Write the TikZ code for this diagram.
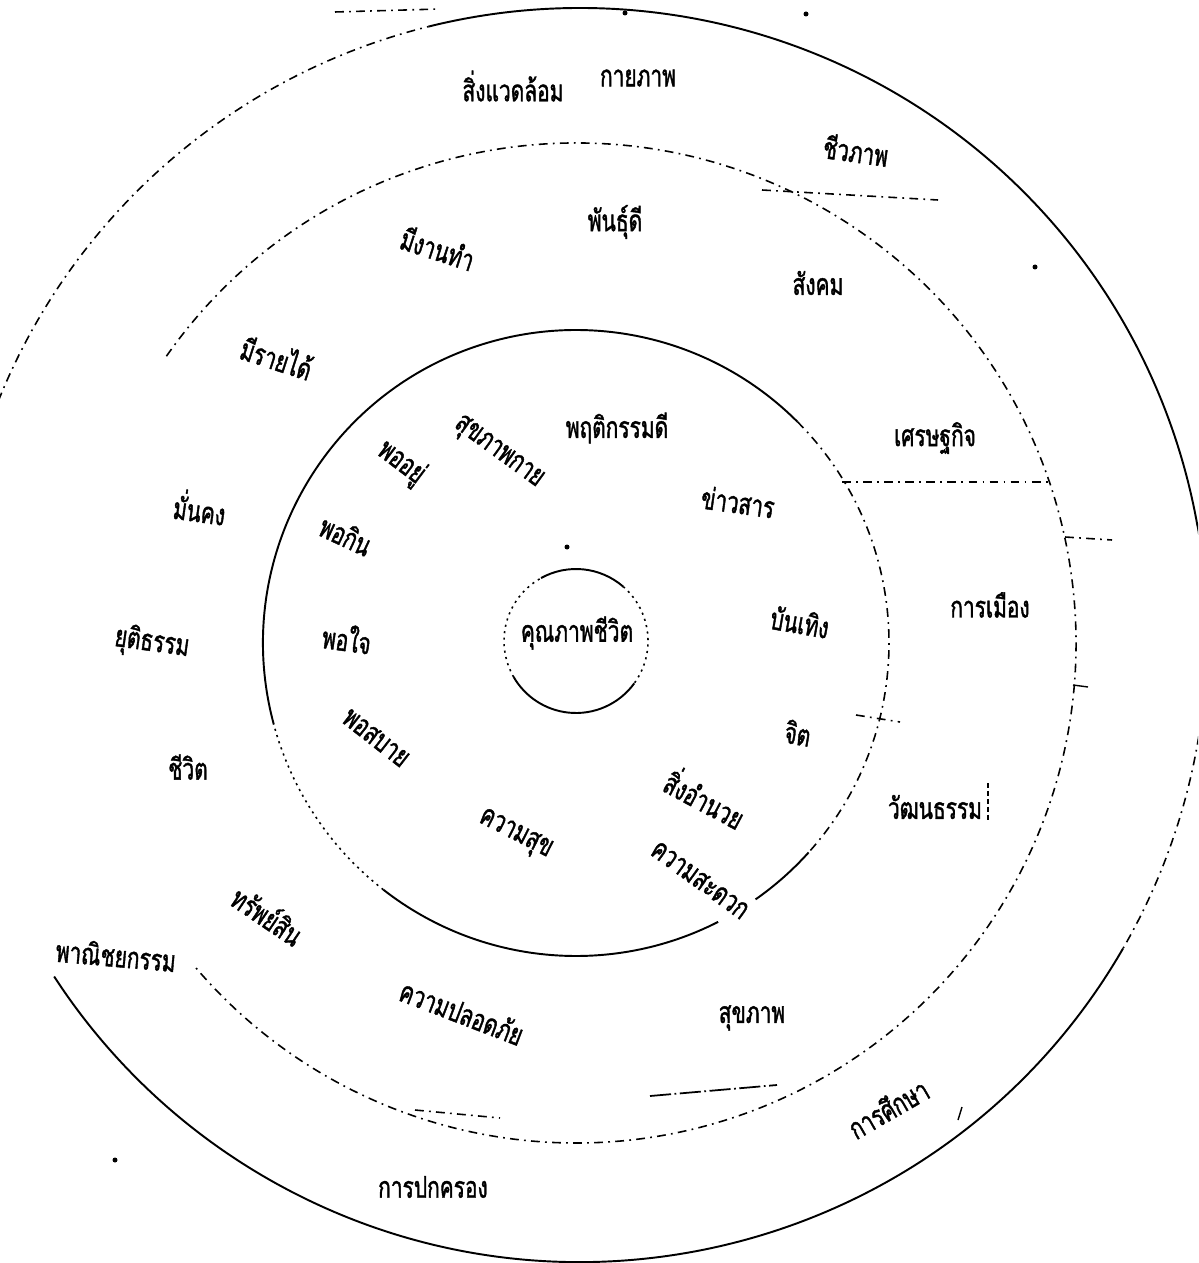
\documentclass[tikz,border=0pt]{standalone}
\usepackage{fontspec}
\newfontfamily\thai[Script=Thai,FakeStretch=0.7,FakeBold=1.3]{Loma}
\begin{document}
\begin{tikzpicture}[x=0.02cm,y=-0.02cm,
  lbl/.style={font=\thai\fontsize{17}{20}\selectfont, inner sep=1pt},
  ring/.style={line width=1.1pt},
  dring/.style={line width=0.9pt, dash pattern=on 5pt off 3pt on 1pt off 3pt},
  dotring/.style={line width=0.9pt, dash pattern=on 1.2pt off 2.5pt},
  thin/.style={line width=0.8pt},
  speck/.style={fill=black}]
\useasboundingbox (0,0) rectangle (1198,1263);
\fill[white] (0,0) rectangle (1198,1263);
\begin{scope}
\clip (0,0) rectangle (1198,1263);
\coordinate (C0) at (576,641);
\coordinate (C) at (576,643);
\coordinate (CO) at (580,635);
% inner circle
\draw[ring] (C0) ++(-119:72) arc[start angle=-119, end angle=-49, radius=72];
\draw[dotring] (C0) ++(-49:72) arc[start angle=-49, end angle=36, radius=72];
\draw[ring] (C0) ++(36:72) arc[start angle=36, end angle=150, radius=72];
\draw[dotring] (C0) ++(150:72) arc[start angle=150, end angle=241, radius=72];
% second circle
\draw[ring] (C) ++(165:313) arc[start angle=165, end angle=315, radius=313];
\draw[dring] (C) ++(315:313) arc[start angle=315, end angle=402, radius=313];
\draw[ring] (C) ++(42:313) arc[start angle=42, end angle=55, radius=313];
\draw[ring] (C) ++(63:313) arc[start angle=63, end angle=128, radius=313];
\draw[dotring] (C) ++(128:313) arc[start angle=128, end angle=165, radius=313];
% third circle
\draw[dring] (C) ++(-145:500) arc[start angle=-145, end angle=140, radius=500];
% outer circle
\draw[ring] (CO) ++(-104:627) arc[start angle=-104, end angle=-10, radius=627];
\draw[dring] (CO) ++(-10:627) arc[start angle=-10, end angle=30, radius=627];
\draw[ring] (CO) ++(30:627) arc[start angle=30, end angle=147, radius=627];
\draw[dring] (CO) ++(200:627) arc[start angle=200, end angle=256, radius=627];
% separators and marks
\coordinate (h1a) at (842,482); \coordinate (h1b) at (1050,482);
\draw[dring] (h1a) -- (h1b);
\coordinate (h2a) at (762,190); \coordinate (h2b) at (938,200);
\draw[dring] (h2a) -- (h2b);
\coordinate (t1a) at (1065,537); \coordinate (t1b) at (1112,540);
\draw[dring] (t1a) -- (t1b);
\coordinate (t2a) at (1073,685); \coordinate (t2b) at (1088,687);
\draw[thin] (t2a) -- (t2b);
\coordinate (t3a) at (856,715); \coordinate (t3b) at (900,722);
\draw[dring] (t3a) -- (t3b);
\coordinate (v1a) at (988,783); \coordinate (v1b) at (988,820);
\draw[thin, dash pattern=on 3pt off 1.5pt] (v1a) -- (v1b);
\coordinate (s1a) at (958,1120); \coordinate (s1b) at (962,1107);
\draw[thin] (s1a) -- (s1b);
\coordinate (b1a) at (650,1096); \coordinate (b1b) at (777,1085);
\draw[line width=1pt, dash pattern=on 12pt off 2pt on 1pt off 2pt] (b1a) -- (b1b);
\coordinate (b2a) at (415,1110); \coordinate (b2b) at (500,1118);
\draw[dring] (b2a) -- (b2b);
\coordinate (tp1) at (335,12); \coordinate (tp2) at (440,9);
\draw[dring] (tp1) -- (tp2);
\fill[speck] (625,13) circle[radius=2.5];
\fill[speck] (806,14) circle[radius=2.5];
\fill[speck] (567,547) circle[radius=2.5];
\fill[speck] (1035,267) circle[radius=2.5];
\fill[speck] (115,1160) circle[radius=2.5];
\end{scope}
% labels
\node[lbl] (n1) at (513,86) {สิ่งแวดล้อม};
\node[lbl] (n2) at (638,78) {กายภาพ};
\node[lbl, rotate=-8] (n3) at (856,150) {ชีวภาพ};
\node[lbl] (n4) at (615,222) {พันธุ์ดี};
\node[lbl, rotate=-18] (n5) at (438,248) {มีงานทำ};
\node[lbl] (n6) at (818,283) {สังคม};
\node[lbl, rotate=-18] (n7) at (277,357) {มีรายได้};
\node[lbl] (n8) at (935,438) {เศรษฐกิจ};
\node[lbl] (n9) at (617,428) {พฤติกรรมดี};
\node[lbl, rotate=-36] (n10) at (498,453) {สุขภาพกาย};
\node[lbl, rotate=-37] (n11) at (401,463) {พออยู่};
\node[lbl, rotate=-8] (n12) at (200,507) {มั่นคง};
\node[lbl, rotate=-8] (n13) at (738,502) {ข่าวสาร};
\node[lbl, rotate=-25] (n14) at (346,535) {พอกิน};
\node[lbl] (n15) at (990,605) {การเมือง};
\node[lbl, rotate=-10] (n16) at (800,622) {บันเทิง};
\node[lbl] (n17) at (577,633) {คุณภาพชีวิต};
\node[lbl, rotate=-8] (n18) at (152,643) {ยุติธรรม};
\node[lbl, rotate=-8] (n19) at (347,638) {พอใจ};
\node[lbl, rotate=-38] (n20) at (376,738) {พอสบาย};
\node[lbl, rotate=-10] (n21) at (798,733) {จิต};
\node[lbl] (n22) at (188,767) {ชีวิต};
\node[lbl, rotate=-28] (n23) at (706,797) {สิ่งอำนวย};
\node[lbl] (n24) at (935,807) {วัฒนธรรม};
\node[lbl, rotate=-27] (n25) at (515,835) {ความสุข};
\node[lbl, rotate=-36] (n26) at (700,880) {ความสะดวก};
\node[lbl, rotate=-34] (n27) at (268,915) {ทรัพย์สิน};
\node[lbl, rotate=-5] (n28) at (116,955) {พาณิชยกรรม};
\node[lbl, rotate=-21] (n29) at (462,1012) {ความปลอดภัย};
\node[lbl] (n30) at (752,1018) {สุขภาพ};
\node[lbl, rotate=30] (n31) at (888,1108) {การศึกษา};
\node[lbl] (n32) at (433,1187) {การปกครอง};
\end{tikzpicture}
\end{document}
